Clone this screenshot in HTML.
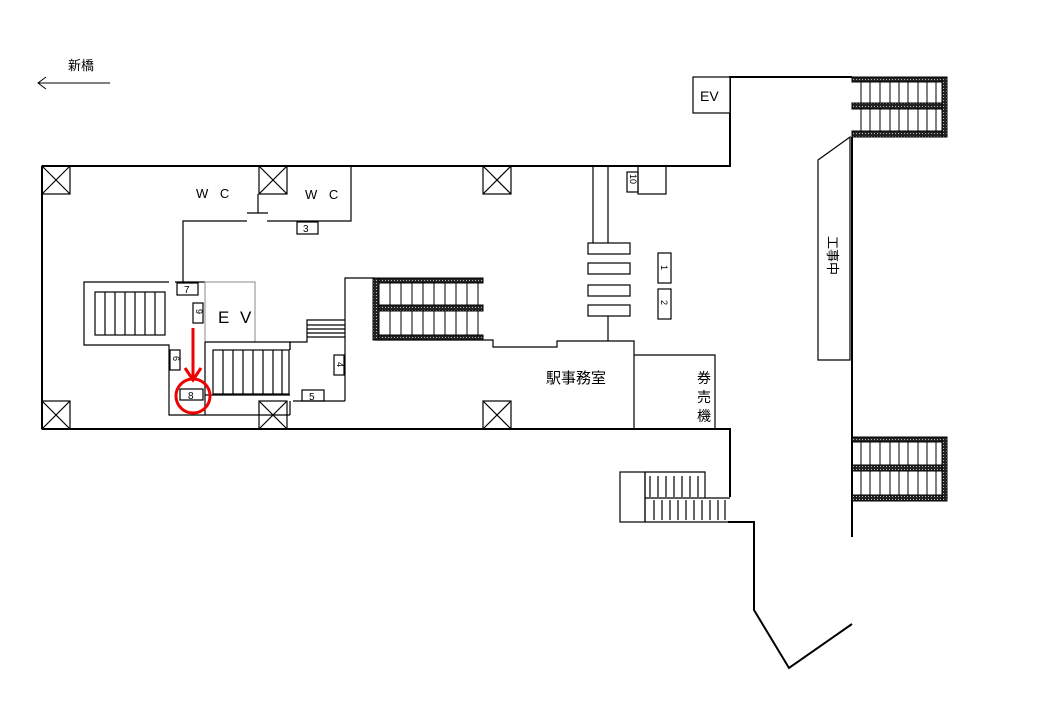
<!DOCTYPE html>
<html><head><meta charset="utf-8"><style>
html,body{margin:0;padding:0;background:#fff;}
svg{display:block}
text{font-family:"Liberation Sans","Noto Sans CJK JP",sans-serif;fill:#000}
</style></head><body>
<svg width="1040" height="720" viewBox="0 0 1040 720" xmlns="http://www.w3.org/2000/svg">
<defs>
<pattern id="dot" width="3" height="3" patternUnits="userSpaceOnUse"><rect width="3" height="3" fill="#222"/><rect x="1" y="1" width="1" height="1" fill="#bbb"/></pattern>
</defs>
<text x="68" y="70" font-size="13">新橋</text>
<line x1="38" y1="83" x2="110" y2="83" stroke="#000" stroke-width="1"/>
<polyline points="46,77 38,83 46,89" fill="none" stroke="#000" stroke-width="1"/>

<g fill="none" stroke="#000" stroke-width="2">
<polyline points="42,166 730,166 730,77 852,77"/>
<line x1="42" y1="166" x2="42" y2="429"/>
<polyline points="42,429 730,429 730,497"/>
<polyline points="728,522 754,522 754,610 789,668 852,624"/>
<line x1="852" y1="137" x2="852" y2="537"/>
</g>
<g fill="none" stroke="#000" stroke-width="1.2">
<rect x="693" y="77" width="37" height="36" fill="#fff"/>
<g>
<rect x="42" y="166" width="28" height="28"/><path d="M42 166L70 194M70 166L42 194"/>
<rect x="42" y="401" width="28" height="28"/><path d="M42 401L70 429M70 401L42 429"/>
<rect x="259" y="166" width="28" height="28"/><path d="M259 166L287 194M287 166L259 194"/>
<rect x="259" y="401" width="28" height="28"/><path d="M259 401L287 429M287 401L259 429"/>
<rect x="483" y="166" width="28" height="28"/><path d="M483 166L511 194M511 166L483 194"/>
<rect x="483" y="401" width="28" height="28"/><path d="M483 401L511 429M511 401L483 429"/>
</g>
<polyline points="351,166 351,221 267,221"/>
<line x1="258" y1="194" x2="258" y2="213"/>
<line x1="247" y1="213" x2="268" y2="213"/>
<polyline points="183,282 183,221 247,221"/>
<polyline points="169,282 84,282 84,345 169,345 169,415 290,415"/>
<line x1="175" y1="282" x2="205" y2="282"/>
<rect x="95" y="292" width="70" height="43"/>
<path d="M105 292V335M115 292V335M125 292V335M135 292V335M145 292V335M155 292V335"/>
<rect x="205" y="282" width="50" height="60" stroke="#888" stroke-width="1"/>
<polyline points="205,342 290,342 290,350"/>
<polyline points="205,342 205,415"/>
<rect x="213" y="350" width="76" height="44"/>
<path d="M223 350V394M233 350V394M243 350V394M253 350V394M263 350V394M273 350V394M282 350V394"/>
<line x1="205" y1="395" x2="290" y2="395"/>
<polyline points="290,415 290,401"/>
<line x1="293" y1="401" x2="345" y2="401"/>
<polyline points="290,350 290,342 307,342 307,320 345,320"/>
<path d="M307 325H345M307 329H345M307 333H345M307 337H345"/>
<polyline points="345,401 345,278 375,278"/>
<rect x="297" y="222" width="21" height="12"/>
<rect x="177" y="283" width="21" height="12"/>
<rect x="193" y="303" width="10" height="20"/>
<rect x="170" y="350" width="10" height="20"/>
<rect x="180" y="389" width="23" height="11"/>
<rect x="302" y="390" width="22" height="11"/>
<rect x="334" y="355" width="10" height="20"/>
<polyline points="375,340 493,340 493,347 557,347 557,341 634,341 634,429"/>
<polyline points="634,355 715,355 715,429"/>
<line x1="593" y1="166" x2="593" y2="243"/>
<line x1="608" y1="166" x2="608" y2="243"/>
<rect x="588" y="243" width="42" height="11"/>
<rect x="588" y="263" width="42" height="11"/>
<rect x="588" y="285" width="42" height="11"/>
<rect x="588" y="305" width="42" height="11"/>
<line x1="608" y1="316" x2="608" y2="341"/>
<rect x="627" y="172" width="11" height="20"/>
<rect x="638" y="166" width="28" height="28"/>
<rect x="658" y="253" width="13" height="30"/>
<rect x="658" y="289" width="13" height="30"/>
<polygon points="818,160 850,137 850,360 818,360"/>
<rect x="620" y="472" width="25" height="50"/>
<polyline points="645,472 705,472 705,498"/>
<line x1="645" y1="522" x2="728" y2="522"/>
<line x1="645" y1="472" x2="645" y2="522"/>
<line x1="645" y1="498" x2="730" y2="498"/>
<path d="M650 476V497M658 476V497M666 476V497M674 476V497M682 476V497M690 476V497M698 476V497"/>
<path d="M654 500V520M662 500V520M670 500V520M678 500V520M686 500V520M694 500V520M702 500V520M710 500V520M718 500V520M725 500V520"/>
</g>
<g stroke="#000" stroke-width="1">
<rect x="373" y="278" width="110" height="5" fill="url(#dot)"/>
<rect x="373" y="305" width="110" height="6" fill="url(#dot)"/>
<rect x="373" y="335" width="110" height="5" fill="url(#dot)"/>
<rect x="373" y="278" width="6" height="62" fill="url(#dot)"/>
<path d="M390 283V305M401 283V305M412 283V305M423 283V305M434 283V305M445 283V305M456 283V305M467 283V305M478 283V305M390 311V335M401 311V335M412 311V335M423 311V335M434 311V335M445 311V335M456 311V335M467 311V335M478 311V335"/>
<rect x="852" y="77" width="94" height="5" fill="url(#dot)"/>
<rect x="852" y="103" width="94" height="6" fill="url(#dot)"/>
<rect x="852" y="131" width="94" height="6" fill="url(#dot)"/>
<rect x="942" y="77" width="5" height="60" fill="url(#dot)"/>
<path d="M861 82V103M870 82V103M880 82V103M890 82V103M899 82V103M908 82V103M918 82V103M927 82V103M936 82V103M861 109V131M870 109V131M880 109V131M890 109V131M899 109V131M908 109V131M918 109V131M927 109V131M936 109V131"/>
<rect x="852" y="437" width="94" height="5" fill="url(#dot)"/>
<rect x="852" y="465" width="94" height="6" fill="url(#dot)"/>
<rect x="852" y="495" width="94" height="6" fill="url(#dot)"/>
<rect x="942" y="437" width="5" height="64" fill="url(#dot)"/>
<path d="M861 442V465M870 442V465M880 442V465M890 442V465M899 442V465M908 442V465M918 442V465M927 442V465M936 442V465M861 471V495M870 471V495M880 471V495M890 471V495M899 471V495M908 471V495M918 471V495M927 471V495M936 471V495"/>
</g>
<g stroke="#e00" stroke-width="3" fill="none">
<line x1="193" y1="328" x2="193" y2="378"/>
<polyline points="185,368 193,380 201,368"/>
<circle cx="193" cy="396" r="17"/>
</g>
<text x="196" y="198" font-size="13" letter-spacing="4">W C</text>
<text x="305" y="199" font-size="13" letter-spacing="4">W C</text>
<text x="303" y="232" font-size="10">3</text>
<text x="184" y="293" font-size="10">7</text>
<text x="188" y="399" font-size="10">8</text>
<text x="309" y="400" font-size="10">5</text>
<text x="218" y="323" font-size="17" letter-spacing="3">E V</text>
<text x="700" y="101" font-size="14">EV</text>
<text x="546" y="383" font-size="15">駅事務室</text>
<text x="697" y="383" font-size="14">券</text>
<text x="697" y="402" font-size="14">売</text>
<text x="697" y="421" font-size="14">機</text>
<g font-size="9">
<text transform="translate(196,309) rotate(90)">9</text>
<text transform="translate(173,356) rotate(90)">6</text>
<text transform="translate(337,362) rotate(90)">4</text>
<text transform="translate(630,174) rotate(90)">10</text>
<text transform="translate(661,265) rotate(90)">1</text>
<text transform="translate(661,300) rotate(90)">2</text>
</g>
<text transform="translate(828,236) rotate(90)" font-size="13">工事中</text>
</svg>
</body></html>
